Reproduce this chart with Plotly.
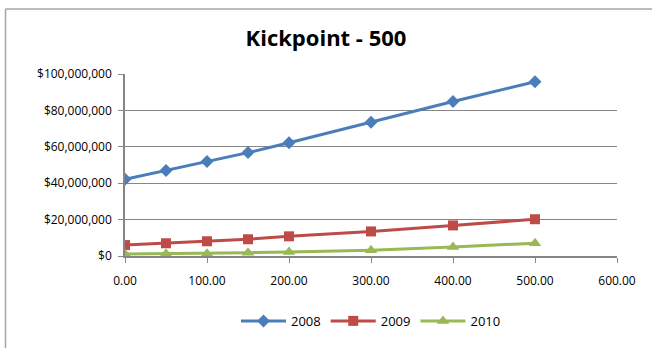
import plotly.graph_objects as go

# Kickpoint values (x) and totals per year
kickpoint = [0, 50, 100, 150, 200, 300, 400, 500]
y2008 = [42200000, 47000000, 51900000, 56800000, 62200000, 73500000, 84900000, 95700000]
y2009 = [6000000, 7000000, 8100000, 9200000, 10800000, 13500000, 16800000, 20200000]
y2010 = [1100000, 1200000, 1300000, 1800000, 2200000, 3200000, 5000000, 7000000]

x_ticks = [0, 100, 200, 300, 400, 500, 600]
x_tick_text = ["0.00", "100.00", "200.00", "300.00", "400.00", "500.00", "600.00"]
y_ticks = [0, 20000000, 40000000, 60000000, 80000000, 100000000]
y_tick_text = ["$0", "$20,000,000", "$40,000,000", "$60,000,000", "$80,000,000", "$100,000,000"]

W, H = 652, 348
ML, MR, MT, MB = 125, 35, 74, 89
PW, PH = W - ML - MR, H - MT - MB

FONT = "Open Sans"

fig = go.Figure()
fig.add_trace(go.Scatter(
    x=kickpoint, y=y2008, name="2008", mode="lines+markers",
    line=dict(color="#4A7EBB", width=3),
    marker=dict(symbol="diamond", size=10, color="#4A7EBB"),
))
fig.add_trace(go.Scatter(
    x=kickpoint, y=y2009, name="2009", mode="lines+markers",
    line=dict(color="#BE4B48", width=3),
    marker=dict(symbol="square", size=10, color="#BE4B48"),
))
fig.add_trace(go.Scatter(
    x=kickpoint, y=y2010, name="2010", mode="lines+markers",
    line=dict(color="#98B954", width=3),
    marker=dict(symbol="triangle-up", size=11, color="#98B954"),
))

# outer chart frame (left and top edges visible)
def px_to_paper_x(px):
    return (px - ML) / PW

def px_to_paper_y(py):
    return 1 - (py - MT) / PH

fig.add_shape(type="line", xref="paper", yref="paper",
              x0=px_to_paper_x(5.5), x1=px_to_paper_x(5.5),
              y0=px_to_paper_y(8), y1=px_to_paper_y(360),
              line=dict(color="#A6A6A6", width=1.5))
fig.add_shape(type="line", xref="paper", yref="paper",
              x0=px_to_paper_x(5.5), x1=px_to_paper_x(660),
              y0=px_to_paper_y(8), y1=px_to_paper_y(8),
              line=dict(color="#A6A6A6", width=1.5))

fig.update_layout(
    width=W, height=H,
    margin=dict(l=ML, r=MR, t=MT, b=MB),
    paper_bgcolor="white", plot_bgcolor="white",
    font=dict(family=FONT, size=12, color="black"),
    title=dict(text="<b>Kickpoint - 500</b>", x=0.5, xanchor="center",
               y=1 - 38 / H, yanchor="middle",
               font=dict(family=FONT, size=22, color="black")),
    showlegend=True,
    legend=dict(orientation="h", x=0.5, xanchor="center",
                y=px_to_paper_y(325), yanchor="middle",
                font=dict(family=FONT, size=13), itemwidth=45,
                traceorder="normal"),
    xaxis=dict(range=[0, 600], tickvals=x_ticks, ticktext=x_tick_text,
               showgrid=False, zeroline=False, showline=True,
               linecolor="#868686", linewidth=1.5,
               ticks="outside", ticklen=5, tickcolor="#868686",
               ticklabelstandoff=8,
               tickfont=dict(family=FONT, size=12)),
    yaxis=dict(range=[0, 100000000], tickvals=y_ticks, ticktext=y_tick_text,
               showgrid=True, gridcolor="#868686", gridwidth=1,
               zeroline=False, showline=True,
               linecolor="#868686", linewidth=1.5,
               ticks="outside", ticklen=5, tickcolor="#868686",
               ticklabelstandoff=4,
               tickfont=dict(family=FONT, size=12)),
)

fig.write_html("out.html")
